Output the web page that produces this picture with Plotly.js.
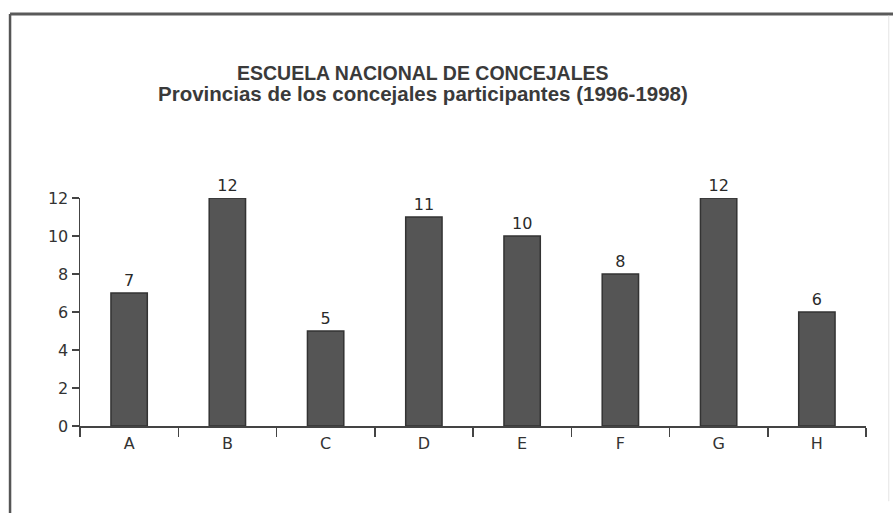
<!DOCTYPE html>
<html>
<head>
<meta charset="utf-8">
<script src="https://cdn.plot.ly/plotly-3.0.1.min.js"></script>
<style>
html, body { margin: 0; padding: 0; background: #ffffff; }
#chart { width: 893px; height: 513px; }
</style>
</head>
<body>
<div id="chart"></div>
<script>
var categories = ["A", "B", "C", "D", "E", "F", "G", "H"];
var values = [7, 12, 5, 11, 10, 8, 12, 6];
var barLabels = ["7", "12", "5", "11", "10", "8", "12", "6"];
var yTicks = [0, 2, 4, 6, 8, 10, 12];
var titleLine1 = "ESCUELA NACIONAL DE CONCEJALES";
var titleLine2 = "Provincias de los concejales participantes (1996-1998)";

var tickFont = "DejaVu Sans, Liberation Sans, Arial, sans-serif";

var trace = {
  type: "bar",
  x: categories,
  y: values,
  text: barLabels,
  textposition: "outside",
  cliponaxis: false,
  textfont: { family: tickFont, size: 16, color: "#2a2a2a" },
  marker: { color: "#555555", line: { color: "#333333", width: 1.5 } },
  hoverinfo: "x+y"
};

var layout = {
  width: 893,
  height: 513,
  margin: { l: 80, r: 27, t: 198, b: 87 },
  paper_bgcolor: "#ffffff",
  plot_bgcolor: "#ffffff",
  bargap: 0.63,
  showlegend: false,
  font: { family: "Liberation Sans, Arial, sans-serif", color: "#333333" },
  xaxis: {
    type: "category",
    tickson: "boundaries",
    ticks: "outside",
    ticklen: 9,
    tickwidth: 1.5,
    tickcolor: "#444444",
    showline: true,
    linecolor: "#444444",
    linewidth: 2,
    showgrid: false,
    zeroline: false,
    ticklabelstandoff: 2,
    tickfont: { family: tickFont, size: 16, color: "#333333" },
    fixedrange: true
  },
  yaxis: {
    range: [0, 12],
    tickvals: yTicks,
    ticktext: yTicks.map(String),
    ticks: "outside",
    ticklen: 7,
    tickwidth: 1.5,
    tickcolor: "#444444",
    showline: true,
    linecolor: "#444444",
    linewidth: 1.5,
    showgrid: false,
    zeroline: false,
    tickfont: { family: tickFont, size: 16, color: "#333333" },
    fixedrange: true
  },
  annotations: [
    {
      text: "<b>" + titleLine1 + "</b>",
      xref: "paper", yref: "paper",
      x: 0.437, y: 1.548,
      xanchor: "center", yanchor: "middle",
      showarrow: false,
      font: { family: "Liberation Sans, Arial, sans-serif", size: 19.5, color: "#3a3a3a" }
    },
    {
      text: "<b>" + titleLine2 + "</b>",
      xref: "paper", yref: "paper",
      x: 0.437, y: 1.46,
      xanchor: "center", yanchor: "middle",
      showarrow: false,
      font: { family: "Liberation Sans, Arial, sans-serif", size: 20.5, color: "#3a3a3a" }
    }
  ],
  shapes: [
    { type: "line", xref: "paper", yref: "paper", x0: -0.089, x1: -0.089, y0: 1.807, y1: -0.385,
      line: { color: "#555555", width: 2.5 } },
    { type: "line", xref: "paper", yref: "paper", x0: -0.089, x1: 1.036, y0: 1.807, y1: 1.807,
      line: { color: "#5a5a5a", width: 3 } },
    { type: "line", xref: "paper", yref: "paper", x0: 1.029, x1: 1.029, y0: 1.80, y1: -0.33,
      line: { color: "#e4e4e4", width: 1 } }
  ]
};

Plotly.newPlot("chart", [trace], layout, { displayModeBar: false, staticPlot: true });
</script>
</body>
</html>
